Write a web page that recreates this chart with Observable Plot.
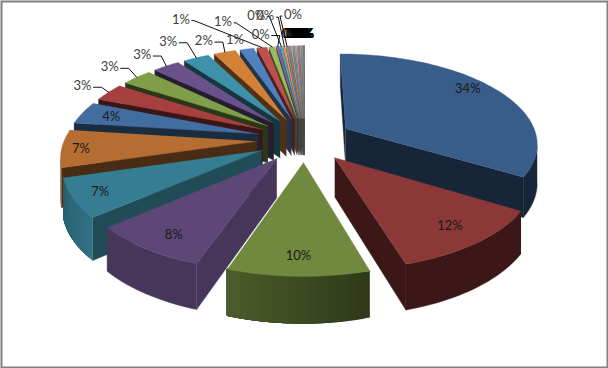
<!DOCTYPE html>
<html><head><meta charset="utf-8">
<style>html,body{margin:0;padding:0;background:#fff}svg{display:block}</style>
<script src="https://cdn.jsdelivr.net/npm/d3@7"></script>
<script src="https://cdn.jsdelivr.net/npm/@observablehq/plot@0.6"></script>
</head><body><div id="c"></div>
<script>
const values = [33.7,11.7,9.84,8.36,6.8,6.6,4.0,3.2,3.0,2.7,2.6,2.2,1.4,1.0,0.6,0.3,0.26,0.22,0.2,0.18,0.16,0.14,0.12,0.11,0.1,0.09,0.08,0.07,0.06,0.05,0.04,0.03,0.03,0.02];
const labels = ["34%","12%","10%","8%","7%","7%","4%","3%","3%","3%","3%","2%","1%","1%","1%"].concat(values.slice(15).map(()=>"0%"));
const cycle0 = ["#385D8A","#8C3836","#71893F","#5C4776","#357D91","#B66D31"];
const cycle1 = ["#426DA0","#A5403F","#7F9E47","#69528A","#3D91A8","#D38137"];
const cycle2 = ["#4F81BD","#C0504D","#9BBB59","#8064A2","#4BACC6","#F79646"];
const cycle3 = ["#7F8FA9","#A9787A","#A0AE80","#8F86A3","#7FA6B4","#C9A27E"];
const radialShade = [0.4,0.42,0.6,0.76,0.6,0.4,0.4,0.35,0.35,0.35,0.38,0.38,0.4,0.4,0.4];
const arcShadeFrom = [0.4,0.42,0.42,0.76,0.9,0.85];
const arcShadeTo   = [0.4,0.42,0.68,0.76,0.75,0.85];
const innerNudge = [[3,-9],[8,4],[-1,8],[-4,8],[-17,5],[-24,2],[-9,-1]];
const outerNudge = [[-26,-6],[-27,-10],[-24,-11],[-28,-16],[-21,-11],[-12,-9],[-81,-28],[-49,-25],[-17,-12],[-25,-31],[-19,-30],[6,-31]];

// camera of the 3-D pie
const cx=304, cy=139, A=192, B=89, H=38, k=0.15, e=0.25;
const total=d3.sum(values);
let acc=0;
const slices=values.map((v,i)=>{
  const a0=acc/total*2*Math.PI; acc+=v; const a1=acc/total*2*Math.PI;
  const c=i<6?cycle0[i]:i<12?cycle1[i%6]:i<18?cycle2[i%6]:cycle3[i%6];
  return {i,a0,a1,mid:(a0+a1)/2,color:c,label:labels[i]};
});
const P=(sl,r,t,z)=>{
  const X=e*Math.sin(sl.mid)+r*Math.sin(t), Y=e*Math.cos(sl.mid)+r*Math.cos(t), s=1/(1+k*Y);
  return [cx+A*X*s, cy-B*Y*s+z*H*s];
};
const shade=(col,f)=>{const c=d3.rgb(col);return d3.rgb(c.r*f,c.g*f,c.b*f).formatHex();};
const area=p=>{let a=0;p.forEach((q,j)=>{const n=p[(j+1)%p.length];a+=q[0]*n[1]-n[0]*q[1];});return a;};

const polys=[];let id=0;
const add=(pts,fill)=>{id++;pts.forEach(q=>polys.push({id,x:q[0],y:q[1],fill}));};
const order=slices.slice().sort((a,b)=>Math.cos(b.mid)-Math.cos(a.mid));
for(const sl of order){
  const i=sl.i;
  const rs=radialShade[i]??0.45;
  for(const [t,sgn] of [[sl.a0,1],[sl.a1,-1]]){
    const q=[P(sl,0,t,0),P(sl,1,t,0),P(sl,1,t,1),P(sl,0,t,1)];
    if(area(q)*sgn<0) add(q,shade(sl.color,rs));
  }
  // the part of the outer wall that faces the viewer
  const n=Math.max(2,Math.ceil((sl.a1-sl.a0)/0.03));
  const ts=d3.range(n+1).map(j=>sl.a0+(sl.a1-sl.a0)*j/n);
  const front=[];
  for(let j=0;j<n;j++){
    const q=[P(sl,1,ts[j],0),P(sl,1,ts[j+1],0),P(sl,1,ts[j+1],1),P(sl,1,ts[j],1)];
    if(area(q)<0) front.push(j);
  }
  if(front.length){
    const from=arcShadeFrom[i]??0.45,to=arcShadeTo[i]??0.45;
    const last=front[front.length-1]+1;
    const strips=from===to?[front[0]]:front;
    for(const j of strips){
      const span=ts.slice(j,last+1);
      const q=span.map(t=>P(sl,1,t,0)).concat(span.slice().reverse().map(t=>P(sl,1,t,1)));
      add(q,shade(sl.color,from+(to-from)*(j/n)));
    }
  }
  const top=[P(sl,0,sl.a0,0)].concat(ts.map(t=>P(sl,1,t,0)));
  add(top,sl.color);
}

const text=[],lead=[];
slices.forEach(sl=>{
  if(sl.i<7){
    const p=P(sl,0.78,sl.mid,0),n=innerNudge[sl.i];
    text.push({x:p[0]+n[0],y:p[1]+n[1],t:sl.label,c:"#1a1a1a"});
  }else if(sl.i<19){
    const p=P(sl,1,sl.mid,0),n=outerNudge[sl.i-7];
    const lx=p[0]+n[0],ly=p[1]+n[1];
    text.push({x:lx,y:ly,t:sl.label,c:"#404040"});
    if(sl.i!==12){
      id++;
      const side=n[0]>0?-1:1;
      [[lx+side*11,ly+1],[lx+side*(n[1]<-20?13:19),ly+1],p].forEach(q=>lead.push({id,x:q[0],y:q[1]}));
    }
  }else{
    const p=P(sl,1,sl.mid,0);
    text.push({x:p[0]+1,y:p[1]-12,t:sl.label,c:"#000"});
  }
});

const chart=Plot.plot({
  width:608,height:368,margin:0,
  x:{domain:[0,608],range:[0,608],axis:null},
  y:{domain:[0,368],range:[0,368],axis:null},
  color:{type:"identity"},
  style:{background:"#fff"},
  marks:[
    Plot.line(polys,{x:"x",y:"y",z:"id",fill:"fill",stroke:"fill",strokeWidth:0.4,curve:"linear",strokeLinejoin:"round"}),
    Plot.line(lead,{x:"x",y:"y",z:"id",stroke:"#111",strokeWidth:1,curve:"linear"}),
    Plot.text(text,{x:"x",y:"y",text:"t",fill:"c",fontSize:13,fontFamily:"Lato"}),
    Plot.frame({stroke:"#808080",strokeWidth:2,inset:1})
  ]
});
document.getElementById("c").appendChild(chart);
</script></body></html>
